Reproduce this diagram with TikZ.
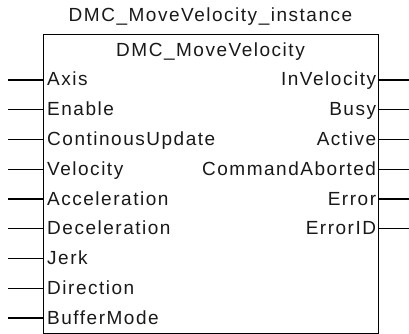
\documentclass[tikz,border=0pt]{standalone}
\usepackage{fontspec}
\setmainfont{Liberation Sans}[LetterSpace=8]
\usetikzlibrary{positioning}
\tikzset{
    fblock/.style={rectangle, draw=black, line width=1.3pt, fill=white,
                   minimum width=335pt, minimum height=299pt, inner sep=0pt},
    pinline/.style={line width=1.1pt, black},
    pinlabel/.style={font=\fontsize{19}{22}\selectfont, inner sep=0pt, text=black!90}
}
\begin{document}
\begin{tikzpicture}[x=1pt, y=-1pt]
    \useasboundingbox (0,0) rectangle (409,334);
    \node[fblock, anchor=north west] (fb) at (43,34) {};
    \node[pinlabel, anchor=base] (inst) at (210.5,22) {DMC\_MoveVelocity\_instance};
    \node[pinlabel, anchor=base] (ftype) at (210.5,57) {DMC\_MoveVelocity};
    % inputs
    \foreach \name [count=\i from 0] in {Axis,Enable,ContinousUpdate,Velocity,Acceleration,Deceleration,Jerk,Direction,BufferMode} {
        \coordinate (in\i) at (8, 80+29.75*\i);
        \draw[pinline] (in\i) -- (fb.west |- in\i);
        \node[pinlabel, anchor=base west] (inl\i) at ([xshift=4pt, yshift=-6pt]fb.west |- in\i) {\name};
    }
    % outputs
    \foreach \name [count=\i from 0] in {InVelocity,Busy,Active,CommandAborted,Error,ErrorID} {
        \coordinate (out\i) at (409, 80+29.75*\i);
        \draw[pinline] (fb.east |- out\i) -- (out\i);
        \node[pinlabel, anchor=base east] (outl\i) at ([xshift=-3pt, yshift=-6pt]fb.east |- out\i) {\name};
    }
\end{tikzpicture}
\end{document}
